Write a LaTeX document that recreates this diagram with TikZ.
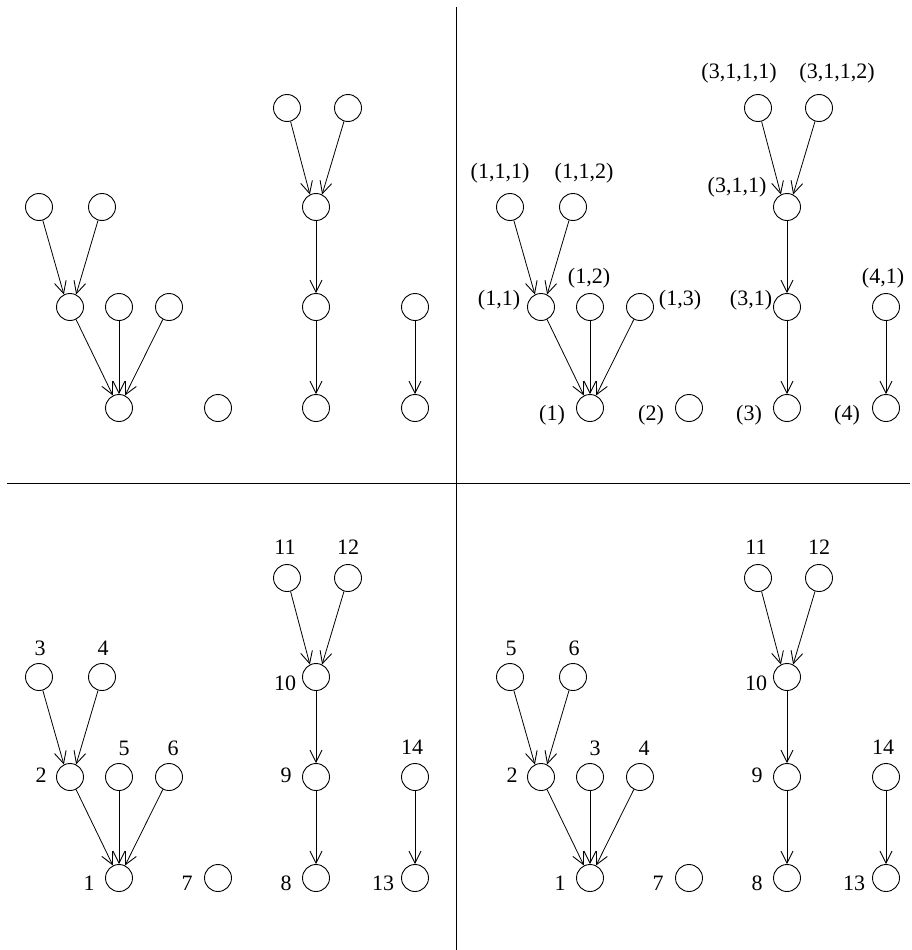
\documentclass[tikz,border=0pt]{standalone}
\usepackage{fontspec}
\setmainfont{Liberation Serif}
\usetikzlibrary{arrows.meta}
\tikzset{
  vtx/.style={circle,draw,line width=0.9pt,minimum size=27pt,inner sep=0pt},
  arr/.style={line width=0.8pt,-{Straight Barb[length=12pt,width=12pt,line width=0.9pt]}},
  lbl/.style={inner sep=0pt,font=\fontsize{22}{26}\selectfont},
  sep/.style={line width=1pt}
}
\newcommand\drawforest[3]{%
  \begin{scope}[shift={(#2,#3)}]
    \node[vtx] (#1a1) at (39,207) {};
    \node[vtx] (#1a2) at (102,207) {};
    \node[vtx] (#1b1) at (70,307) {};
    \node[vtx] (#1b2) at (119,307) {};
    \node[vtx] (#1b3) at (169,307) {};
    \node[vtx] (#1c1) at (119,408) {};
    \node[vtx] (#1c2) at (218,408) {};
    \node[vtx] (#1d1) at (287,108) {};
    \node[vtx] (#1d2) at (348,108) {};
    \node[vtx] (#1d3) at (316,207) {};
    \node[vtx] (#1d4) at (316,307) {};
    \node[vtx] (#1d5) at (316,408) {};
    \node[vtx] (#1e1) at (415,307) {};
    \node[vtx] (#1e2) at (415,408) {};
    \draw[arr] (#1a1) -- (#1b1.116);
    \draw[arr] (#1a2) -- (#1b1.64);
    \draw[arr] (#1b1) -- (#1c1.116);
    \draw[arr] (#1b2) -- (#1c1.north);
    \draw[arr] (#1b3) -- (#1c1.64);
    \draw[arr] (#1d1) -- (#1d3.116);
    \draw[arr] (#1d2) -- (#1d3.64);
    \draw[arr] (#1d3) -- (#1d4.north);
    \draw[arr] (#1d4) -- (#1d5.north);
    \draw[arr] (#1e1) -- (#1e2.north);
  \end{scope}}
\begin{document}
\begin{tikzpicture}[x=1pt,y=-1pt]
  \useasboundingbox (0,0) rectangle (911,950);
  % separators
  \coordinate (vt) at (456,7);
  \coordinate (vb) at (456,950);
  \coordinate (hl) at (7,483);
  \coordinate (hr) at (910,483);
  \draw[sep] (vt) -- (vb);
  \draw[sep] (hl) -- (hr);
  % forests
  \drawforest{p}{0}{0}
  \drawforest{q}{471}{0}
  \drawforest{r}{0}{470}
  \drawforest{s}{471}{470}
  % top-right labels
  \node[lbl] (qla1) at (500,173) {(1,1,1)};
  \node[lbl] (qla2) at (584,173) {(1,1,2)};
  \node[lbl] (qlb1) at (499,300) {(1,1)};
  \node[lbl] (qlb2) at (589,278) {(1,2)};
  \node[lbl] (qlb3) at (680,300) {(1,3)};
  \node[lbl] (qlc1) at (552,415) {(1)};
  \node[lbl] (qlc2) at (651,415) {(2)};
  \node[lbl] (qld1) at (739,73) {(3,1,1,1)};
  \node[lbl] (qld2) at (837,73) {(3,1,1,2)};
  \node[lbl] (qld3) at (737,187) {(3,1,1)};
  \node[lbl] (qld4) at (751,300) {(3,1)};
  \node[lbl] (qld5) at (749,415) {(3)};
  \node[lbl] (qle1) at (883,278) {(4,1)};
  \node[lbl] (qle2) at (847,415) {(4)};
  % bottom-left labels
  \node[lbl] (rla1) at (40,648) {3};
  \node[lbl] (rla2) at (103,648) {4};
  \node[lbl] (rlb1) at (41,775) {2};
  \node[lbl] (rlb2) at (124,748) {5};
  \node[lbl] (rlb3) at (173,748) {6};
  \node[lbl] (rlc1) at (89,883) {1};
  \node[lbl] (rlc2) at (187,883) {7};
  \node[lbl] (rld1) at (285,547) {11};
  \node[lbl] (rld2) at (348,547) {12};
  \node[lbl] (rld3) at (285,683) {10};
  \node[lbl] (rld4) at (286,775) {9};
  \node[lbl] (rld5) at (286,883) {8};
  \node[lbl] (rle1) at (412,747) {14};
  \node[lbl] (rle2) at (383,883) {13};
  % bottom-right labels
  \node[lbl] (sla1) at (511,648) {5};
  \node[lbl] (sla2) at (574,648) {6};
  \node[lbl] (slb1) at (512,775) {2};
  \node[lbl] (slb2) at (595,748) {3};
  \node[lbl] (slb3) at (644,748) {4};
  \node[lbl] (slc1) at (560,883) {1};
  \node[lbl] (slc2) at (658,883) {7};
  \node[lbl] (sld1) at (756,547) {11};
  \node[lbl] (sld2) at (819,547) {12};
  \node[lbl] (sld3) at (756,683) {10};
  \node[lbl] (sld4) at (757,775) {9};
  \node[lbl] (sld5) at (757,883) {8};
  \node[lbl] (sle1) at (883,747) {14};
  \node[lbl] (sle2) at (854,883) {13};
\end{tikzpicture}
\end{document}
